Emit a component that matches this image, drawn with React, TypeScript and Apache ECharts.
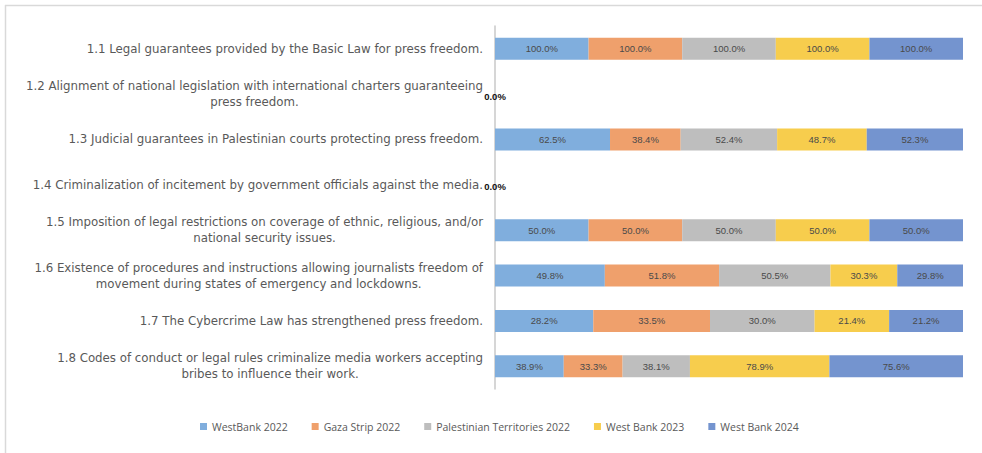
import React, { useEffect, useRef } from "react";
import * as echarts from "echarts";

const categories = [
  "1.1 Legal guarantees provided by the Basic Law for press freedom.",
  "1.2 Alignment of national legislation with international charters guaranteeing\npress freedom.",
  "1.3 Judicial guarantees in Palestinian courts protecting press freedom.",
  "1.4 Criminalization of incitement by government officials against the media.",
  "1.5 Imposition of legal restrictions on coverage of ethnic, religious, and/or\nnational security issues.",
  "1.6 Existence of procedures and instructions allowing journalists freedom of\nmovement during states of emergency and lockdowns.",
  "1.7 The Cybercrime Law has strengthened press freedom.",
  "1.8 Codes of conduct or legal rules criminalize media workers accepting\nbribes to influence their work.",
];

const seriesNames = [
  "WestBank 2022",
  "Gaza Strip 2022",
  "Palestinian Territories 2022",
  "West Bank 2023",
  "West Bank 2024",
];

const westBank2022 = [100, 0, 62.5, 0, 50, 49.8, 28.2, 38.9];
const gaza2022 = [100, 0, 38.4, 0, 50, 51.8, 33.5, 33.3];
const territories2022 = [100, 0, 52.4, 0, 50, 50.5, 30.0, 38.1];
const westBank2023 = [100, 0, 48.7, 0, 50, 30.3, 21.4, 78.9];
const westBank2024 = [100, 0, 52.3, 0, 50, 29.8, 21.2, 75.6];

const colors = ["#80AEDD", "#EFA06C", "#BEBEBE", "#F7CD4D", "#7494CF"];

const allSeries = [westBank2022, gaza2022, territories2022, westBank2023, westBank2024];

export default function App() {
  const ref = useRef<HTMLDivElement>(null);
  useEffect(() => {
    if (!ref.current) return;
    const chart = echarts.init(ref.current, null, { renderer: "svg" });
    const totals = categories.map((_, i) =>
      allSeries.reduce((s, arr) => s + arr[i], 0)
    );
    const series = allSeries.map((arr, si) => ({
      name: seriesNames[si],
      type: "bar",
      stack: "total",
      barWidth: 22,
      itemStyle: { color: colors[si] },
      label: {
        show: true,
        position: "inside",
        color: "#4A4A4A",
        fontSize: 9.5,
        fontFamily: "Liberation Sans",
        formatter: (p: any) => {
          const raw = arr[p.dataIndex];
          if (totals[p.dataIndex] === 0) return si === 0 ? "0.0%" : "";
          return raw.toFixed(1) + "%";
        },
      },
      data: arr.map((v, i) => {
        const share = totals[i] === 0 ? 0 : (v / totals[i]) * 100;
        if (totals[i] === 0) {
          return {
            value: share,
            label: { color: "#111", fontWeight: "bold", fontSize: 9.5, offset: [0, 2] },
          };
        }
        return { value: share };
      }),
    }));
    chart.setOption({
      animation: false,
      backgroundColor: "#ffffff",
      color: colors,
      grid: { left: 495, right: 19, top: 26, bottom: 64, containLabel: false },
      xAxis: {
        type: "value",
        min: 0,
        max: 100,
        show: false,
      },
      yAxis: {
        type: "category",
        inverse: true,
        data: categories,
        axisLine: { show: true, lineStyle: { color: "#C8C8C8", width: 1.5 } },
        axisTick: { show: false },
        axisLabel: {
          margin: 12,
          color: "#595959",
          fontSize: 11.8,
          fontFamily: "DejaVu Sans",
          formatter: (v: string) =>
            v
              .split("\n")
              .map((l) => "{c|" + l + "}")
              .join("\n"),
          rich: {
            c: {
              align: "center",
              color: "#595959",
              fontSize: 11.8,
              fontFamily: "DejaVu Sans",
              lineHeight: 16,
            },
          },
        },
      },
      legend: {
        data: seriesNames,
        bottom: 16,
        left: 195,
        itemWidth: 7,
        itemHeight: 7,
        itemGap: 24,
        icon: "rect",
        textStyle: { color: "#595959", fontSize: 10.5, fontFamily: "Open Sans" },
      },
      graphic: [
        {
          type: "line",
          shape: { x1: 5, y1: 5.5, x2: 982, y2: 5.5 },
          style: { stroke: "#D9D9D9", lineWidth: 1.5 },
        },
        {
          type: "line",
          shape: { x1: 5.5, y1: 5, x2: 5.5, y2: 453 },
          style: { stroke: "#D9D9D9", lineWidth: 1.5 },
        },
      ],
      series,
    });
    return () => chart.dispose();
  }, []);
  return (
    <div
      ref={ref}
      style={{ width: 982, height: 453, position: "absolute", left: 0, top: 0 }}
    />
  );
}
